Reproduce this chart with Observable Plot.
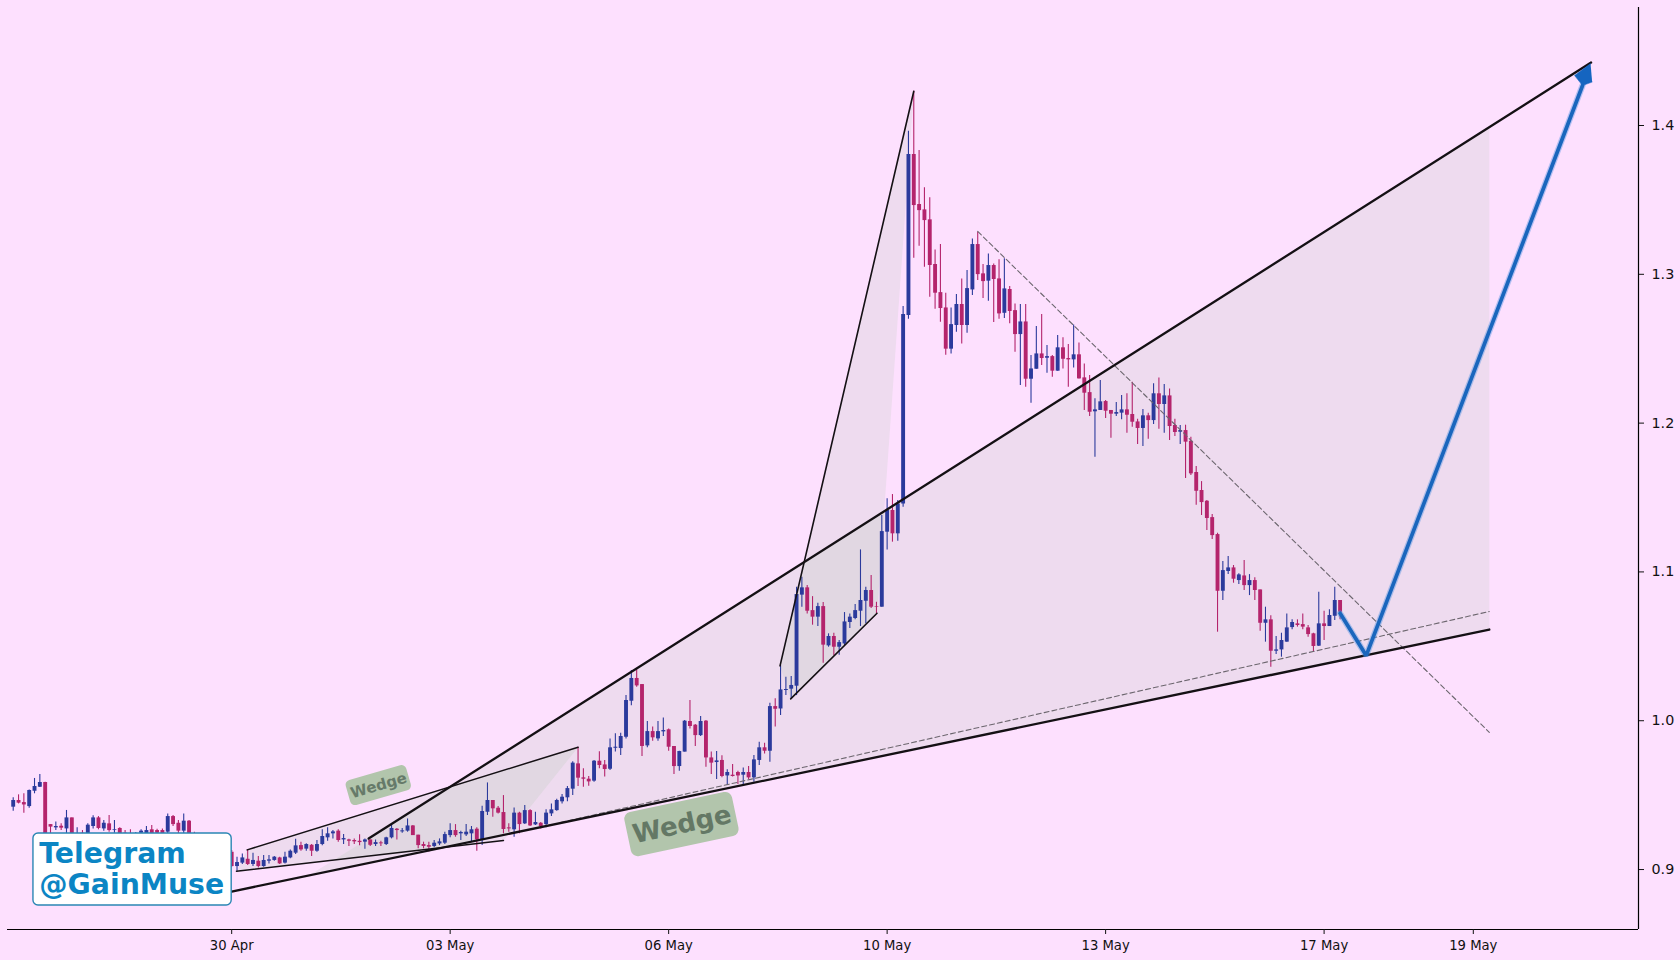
<!DOCTYPE html>
<html>
<head>
<meta charset="utf-8">
<script src="https://cdn.jsdelivr.net/npm/d3@7"></script>
<script src="https://cdn.jsdelivr.net/npm/@observablehq/plot@0.6"></script>
<style>
html,body{margin:0;padding:0;background:#fde0fe;overflow:hidden}
svg{display:block}
</style>
</head>
<body>
<div id="chart"></div>
<script>
const opens=[.9419,.9464,.9450,.9423,.9526,.9553,.9585,.9302,.9280,.9291,
.9273,.9347,.9217,.9244,.9235,.9289,.9347,.9273,.9307,.9262,
.9276,.9244,.9240,.9217,.9244,.9235,.9267,.9262,.9262,.9251,
.9356,.9311,.9258,.9325,.9240,.9190,.9210,.9180,.9130,.9150,
.9125,.9116,.9020,.9043,.9069,.9034,.9056,.9020,.9056,.9061,
.9078,.9043,.9078,.9110,.9161,.9137,.9163,.9123,.9168,.9213,
.9240,.9258,.9199,.9199,.9195,.9190,.9184,.9199,.9168,.9179,
.9168,.9213,.9271,.9253,.9258,.9293,.9231,.9168,.9161,.9155,
.9172,.9177,.9228,.9262,.9240,.9233,.9240,.9271,.9199,.9385,
.9464,.9412,.9383,.9280,.9267,.9379,.9307,.9396,.9300,.9311,
.9302,.9374,.9396,.9455,.9482,.9540,.9710,.9616,.9607,.9594,
.9728,.9703,.9674,.9815,.9813,.9889,1.0131,1.0284,1.0243,.9831,
.9927,.9878,.9925,.9939,.9827,.9692,.9789,.9995,.9970,.9900,
.9997,.9750,.9719,.9733,.9629,.9634,.9652,.9634,.9652,.9616,
.9733,.9818,.9795,1.0095,1.0079,1.0203,1.0212,1.0232,1.0844,1.0893,
1.0740,1.0696,1.0767,1.0503,1.0566,1.0494,1.0516,1.0660,1.0687,1.0736,
1.0803,1.0875,1.0767,1.0763,1.1267,1.1413,1.1256,1.1457,1.2723,1.3805,
1.3469,1.3433,1.3366,1.3066,1.2877,1.2774,1.2497,1.2656,1.2797,1.2656,
1.2895,1.3200,1.3003,1.2954,1.3059,1.2969,1.2738,1.2898,1.2756,1.2595,
1.2680,1.2295,1.2362,1.2465,1.2436,1.2447,1.2349,1.2506,1.2434,1.2425,
1.2459,1.2304,1.2205,1.2076,1.2085,1.2145,1.2085,1.2060,1.2067,1.2089,
1.2058,1.2008,1.1964,1.2049,1.2017,1.2197,1.2125,1.2183,1.1984,1.1939,
1.1950,1.1878,1.1668,1.1547,1.1475,1.1365,1.1251,1.0870,1.1003,1.1027,
1.0942,1.0973,1.0908,1.0942,1.0879,1.0655,1.0678,1.0467,1.0476,1.0528,
1.0626,1.0651,1.0646,1.0624,1.0584,1.0501,1.0651,1.0633,1.0702,1.0808];
const highs=[.9482,.9502,.9509,.9535,.9612,.9638,.9587,.9302,.9320,.9307,
.9397,.9347,.9280,.9262,.9307,.9361,.9356,.9329,.9363,.9329,
.9280,.9262,.9267,.9249,.9267,.9289,.9296,.9271,.9273,.9374,
.9363,.9329,.9374,.9329,.9250,.9230,.9225,.9195,.9170,.9165,
.9145,.9128,.9083,.9105,.9132,.9110,.9087,.9094,.9094,.9087,
.9083,.9116,.9132,.9204,.9184,.9173,.9168,.9195,.9267,.9280,
.9262,.9267,.9235,.9204,.9206,.9233,.9206,.9199,.9199,.9190,
.9217,.9296,.9276,.9276,.9340,.9296,.9231,.9184,.9184,.9195,
.9206,.9251,.9307,.9302,.9258,.9302,.9289,.9280,.9426,.9582,
.9464,.9423,.9497,.9307,.9414,.9385,.9430,.9401,.9385,.9316,
.9401,.9441,.9473,.9504,.9558,.9724,.9822,.9677,.9625,.9733,
.9791,.9733,.9878,.9912,.9916,1.0169,1.0337,1.0342,1.0243,.9995,
.9957,.9995,1.0019,.9945,.9827,.9795,1.0001,1.0136,.9974,1.0028,
1.0001,.9789,.9793,.9764,.9670,.9706,.9661,.9683,.9692,.9766,
.9856,.9849,1.0118,1.0147,1.0371,1.0292,1.0297,1.0897,1.0964,1.0908,
1.0834,1.0790,1.0794,1.0584,1.0588,1.0539,1.0727,1.0718,1.0781,1.1148,
1.0897,1.0976,1.0796,1.1379,1.1491,1.1520,1.1480,1.2783,1.3962,1.4230,
1.3832,1.3581,1.3514,1.3164,1.3200,1.2873,1.2774,1.2864,1.2969,1.3025,
1.3238,1.3283,1.3066,1.3137,1.3070,1.3097,1.3104,1.2918,1.2801,1.2797,
1.2797,1.2454,1.2649,1.2730,1.2521,1.2454,1.2588,1.2573,1.2528,1.2660,
1.2539,1.2398,1.2320,1.2163,1.2286,1.2152,1.2085,1.2138,1.2185,1.2197,
1.2275,1.2026,1.2091,1.2067,1.2264,1.2304,1.2259,1.2230,1.2026,1.1984,
1.1986,1.1905,1.1708,1.1607,1.1480,1.1386,1.1260,1.1070,1.1103,1.1043,
1.0987,1.1077,1.0982,1.0960,1.0879,1.0763,1.0705,1.0566,1.0588,1.0718,
1.0678,1.0678,1.0718,1.0640,1.0588,1.0864,1.0736,1.0745,1.0897,1.0808];
const lows=[.9392,.9441,.9379,.9412,.9509,.9551,.9195,.9228,.9262,.9262,
.9228,.9217,.9195,.9195,.9217,.9273,.9267,.9258,.9251,.9244,
.9217,.9206,.9206,.9195,.9217,.9213,.9217,.9222,.9217,.9235,
.9289,.9240,.9240,.9206,.9200,.9170,.9170,.9130,.9110,.9110,
.9095,.9016,.8989,.9034,.9027,.9020,.9011,.9016,.9038,.9056,
.9034,.9038,.9072,.9101,.9123,.9123,.9087,.9116,.9159,.9190,
.9206,.9184,.9168,.9154,.9168,.9159,.9137,.9154,.9154,.9154,
.9161,.9206,.9199,.9244,.9251,.9228,.9139,.9139,.9117,.9146,
.9161,.9168,.9213,.9217,.9195,.9222,.9184,.9123,.9161,.9363,
.9352,.9374,.9240,.9251,.9217,.9240,.9302,.9289,.9296,.9273,
.9280,.9356,.9392,.9441,.9455,.9497,.9558,.9553,.9560,.9587,
.9677,.9621,.9665,.9789,.9766,.9878,1.0100,1.0225,.9759,.9818,
.9862,.9862,.9894,.9795,.9638,.9661,.9789,.9945,.9827,.9894,
.9688,.9638,.9605,.9616,.9564,.9621,.9571,.9571,.9603,.9587,
.9699,.9777,.9721,.9957,1.0035,1.0169,1.0147,1.0169,1.0763,1.0718,
1.0642,1.0633,1.0387,1.0494,1.0436,1.0440,1.0505,1.0620,1.0678,1.0633,
1.0651,1.0754,1.0718,1.0763,1.1148,1.1200,1.1206,1.1435,1.2698,1.3108,
1.3189,1.3048,1.2846,1.2766,1.2678,1.2456,1.2465,1.2611,1.2532,1.2604,
1.2857,1.2958,1.2837,1.2819,1.2676,1.2698,1.2703,1.2667,1.2476,1.2252,
1.2241,1.2134,1.2362,1.2387,1.2335,1.2308,1.2349,1.2364,1.2241,1.2371,
1.2297,1.2084,1.2044,1.1771,1.2085,1.2031,1.1899,1.2044,1.2022,1.1932,
1.1973,1.1856,1.1843,1.1892,1.1990,1.1959,1.1932,1.1883,1.1910,1.1856,
1.1628,1.1648,1.1448,1.1379,1.1278,1.1218,1.0595,1.0808,1.0982,1.0924,
1.0915,1.0875,1.0841,1.0808,1.0602,1.0528,1.0360,1.0445,1.0427,1.0528,
1.0611,1.0629,1.0611,1.0561,1.0461,1.0499,1.0539,1.0633,1.0673,1.0678];
const closes=[.9464,.9446,.9434,.9531,.9558,.9585,.9235,.9285,.9289,.9278,
.9347,.9235,.9235,.9217,.9298,.9347,.9276,.9311,.9262,.9267,
.9235,.9228,.9222,.9235,.9258,.9262,.9240,.9244,.9235,.9356,
.9302,.9258,.9325,.9240,.9210,.9210,.9180,.9150,.9150,.9125,
.9110,.9020,.9047,.9078,.9034,.9061,.9020,.9061,.9065,.9083,
.9038,.9083,.9123,.9159,.9132,.9168,.9123,.9168,.9222,.9240,
.9253,.9195,.9208,.9190,.9186,.9181,.9199,.9163,.9181,.9173,
.9213,.9276,.9262,.9260,.9293,.9228,.9161,.9155,.9150,.9177,
.9186,.9235,.9262,.9228,.9249,.9251,.9267,.9199,.9390,.9464,
.9408,.9379,.9269,.9273,.9379,.9302,.9396,.9293,.9316,.9289,
.9379,.9401,.9464,.9486,.9544,.9715,.9614,.9607,.9589,.9728,
.9699,.9672,.9818,.9822,.9894,1.0136,1.0284,1.0234,.9827,.9927,
.9885,.9927,.9934,.9822,.9692,.9793,.9997,.9961,.9900,.9995,
.9750,.9715,.9730,.9625,.9652,.9625,.9629,.9652,.9616,.9737,
.9818,.9795,1.0095,1.0077,1.0207,1.0210,1.0237,1.0848,1.0893,1.0736,
1.0696,1.0767,1.0508,1.0566,1.0494,1.0525,1.0664,1.0696,1.0740,1.0808,
1.0875,1.0763,1.0763,1.1271,1.1413,1.1256,1.1457,1.2730,1.3805,1.3462,
1.3428,1.3361,1.3059,1.2873,1.2770,1.2497,1.2662,1.2797,1.2656,1.2904,
1.3200,1.2998,1.2951,1.3059,1.2965,1.2734,1.2902,1.2750,1.2595,1.2680,
1.2295,1.2364,1.2465,1.2434,1.2447,1.2349,1.2506,1.2429,1.2425,1.2459,
1.2297,1.2201,1.2073,1.2089,1.2143,1.2080,1.2060,1.2071,1.2089,1.2053,
1.2006,1.1964,1.2049,1.2017,1.2197,1.2125,1.2183,1.1977,1.1937,1.1950,
1.1872,1.1659,1.1542,1.1466,1.1359,1.1244,1.0870,1.1009,1.1027,1.0951,
1.0980,1.0908,1.0942,1.0875,1.0655,1.0678,1.0467,1.0476,1.0539,1.0624,
1.0660,1.0640,1.0629,1.0579,1.0499,1.0651,1.0633,1.0707,1.0808,1.0729];

const xTicks=[41,82,123,164,205,246,274];
const xLabels=["30 Apr","03 May","06 May","10 May","13 May","17 May","19 May"];
const yTicks=[.9,1.0,1.1,1.2,1.3,1.4];

// pattern outlines, as [candle index, price]
const bigUpper=[[66.7,.9208],[296.1,1.4423]];
const bigLower=[[41,.8852],[277,1.0613]];
const bigFill=[[66.7,.9208],[277,1.3989],[277,1.0613],[55.4,.8959]];
const smallUpper=[[43.9,.9132],[106,.9822]];
const smallLower=[[41.9,.8989],[92,.9195]];
const smallFill=[[43.9,.9132],[106,.9822],[92,.9195],[41.9,.8989]];
const spikeUpper=[[143.9,1.0369],[169,1.4230]];
const spikeLower=[[145.9,1.0147],[162.1,1.0722]];
const spikeFill=[[143.9,1.0369],[169,1.4230],[162.1,1.0722],[145.9,1.0147]];
const dashDown=[[181,1.3288],[277,.9922]];
const dashUp=[[102.7,.9316],[277,1.0734]];
const forecast=[[249,1.0722],[253.9,1.0438],[294.5,1.4269]];
const arrowHead=[[296,1.4416],[293,1.4336],[294.5,1.4268],[296.3,1.4292]];

const candles=opens.map((o,i)=>({i,o,h:highs[i],l:lows[i],c:closes[i]}));
const up="#2b3a9c", down="#b4246c", ink="#141014";
const shade="#80c080";
const colour=d=>d.c>=d.o?up:down;
const xy={x:d=>d[0],y:d=>d[1]};
const xMax=305, yMin=.8597, yMax=1.4793;

function tagBox(i,p,w,h,angle,r){
  return (index,{x,y})=>d3.create("svg:rect")
    .attr("x",-w/2).attr("y",-h/2).attr("width",w).attr("height",h)
    .attr("rx",r).attr("fill","#b2c5ac")
    .attr("transform",`translate(${x(i)},${y(p)}) rotate(${angle})`).node();
}
const tagSmall={i:68.6,p:.9564,w:63,h:26,a:-16,r:5,fs:15};
const tagBig={i:125.5,p:.9302,w:110,h:45,a:-12,r:7,fs:26};

const chart=Plot.plot({
  width:1680,height:960,
  marginLeft:7,marginRight:42,marginTop:7,marginBottom:31,
  x:{domain:[-1.07,xMax]},
  y:{domain:[yMin,yMax]},
  style:{background:"#fde0fe",fontFamily:"'DejaVu Sans',sans-serif"},
  marks:[
    Plot.line(bigFill,{...xy,fill:shade,fillOpacity:.12,stroke:"none"}),
    Plot.line(smallFill,{...xy,fill:shade,fillOpacity:.12,stroke:"none"}),
    Plot.line(spikeFill,{...xy,fill:shade,fillOpacity:.12,stroke:"none"}),
    Plot.ruleX(candles,{x:"i",y1:"l",y2:"h",stroke:colour,strokeWidth:1.1}),
    Plot.ruleX(candles,{x:"i",y1:"o",y2:"c",stroke:colour,strokeWidth:3.9}),
    Plot.line(dashUp,{...xy,stroke:"#6c666e",strokeWidth:1.1,strokeDasharray:"5,3"}),
    Plot.line(dashDown,{...xy,stroke:"#6c666e",strokeWidth:1.1,strokeDasharray:"5,3"}),
    Plot.line(bigUpper,{...xy,stroke:ink,strokeWidth:2.3}),
    Plot.line(bigLower,{...xy,stroke:ink,strokeWidth:2.3}),
    Plot.line(smallUpper,{...xy,stroke:ink,strokeWidth:1.5}),
    Plot.line(smallLower,{...xy,stroke:ink,strokeWidth:1.5}),
    Plot.line(spikeUpper,{...xy,stroke:ink,strokeWidth:1.6}),
    Plot.line(spikeLower,{...xy,stroke:ink,strokeWidth:1.6}),
    Plot.line(forecast,{...xy,stroke:"#4a90e0",strokeOpacity:.4,strokeWidth:6.2,strokeLinejoin:"miter"}),
    Plot.line(forecast,{...xy,stroke:"#1a66bd",strokeWidth:3.7,strokeLinejoin:"miter"}),
    Plot.line(arrowHead,{...xy,fill:"#1565c0",stroke:"#1565c0",strokeWidth:.5}),
    tagBox(tagSmall.i,tagSmall.p,tagSmall.w,tagSmall.h,tagSmall.a,tagSmall.r),
    tagBox(tagBig.i,tagBig.p,tagBig.w,tagBig.h,tagBig.a,tagBig.r),
    Plot.text(["Wedge"],{x:tagSmall.i,y:tagSmall.p,text:d=>d,rotate:tagSmall.a,fontSize:tagSmall.fs,fontWeight:"bold",fill:"#667a69"}),
    Plot.text(["Wedge"],{x:tagBig.i,y:tagBig.p,text:d=>d,rotate:tagBig.a,fontSize:tagBig.fs,fontWeight:"bold",fill:"#647865"}),
    Plot.rect([0],{x1:3.8,x2:41,y1:.8758,y2:.9242,fill:"white",stroke:"#2a86b4",strokeWidth:1.4,rx:5}),
    Plot.text(["Telegram"],{x:4.9,y:.9106,text:d=>d,textAnchor:"start",fontSize:28.3,fontWeight:"bold",fill:"#0b85c4"}),
    Plot.text(["@GainMuse"],{x:4.9,y:.8897,text:d=>d,textAnchor:"start",fontSize:28.3,fontWeight:"bold",fill:"#0b85c4"}),
    Plot.ruleY([yMin],{stroke:"#000",strokeWidth:1.2}),
    Plot.ruleX([xMax],{stroke:"#000",strokeWidth:1.2}),
    Plot.axisX({ticks:xTicks,tickFormat:d=>xLabels[xTicks.indexOf(d)],tickSize:5,tickPadding:6,fontSize:13.2,label:null,color:"#111",textStroke:"none"}),
    Plot.axisY({anchor:"right",ticks:yTicks,tickFormat:d=>d.toFixed(1),tickSize:5,tickPadding:8,fontSize:14.3,label:null,color:"#111",textStroke:"none"})
  ]
});
document.getElementById("chart").appendChild(chart);
</script>
</body>
</html>
